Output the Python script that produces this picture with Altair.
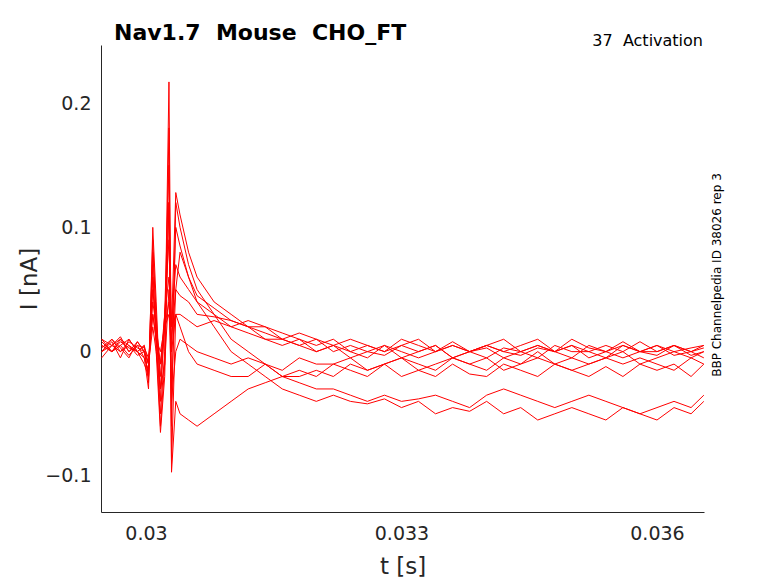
import altair as alt
import pandas as pd

# time grid in ms
t_pre = [29.48, 29.6, 29.7, 29.8, 29.9, 29.98]
t_spk = [30.03, 30.08, 30.12, 30.17, 30.22, 30.27, 30.3, 30.35, 30.4, 30.5]
t_tail = [round(30.6 + 0.2 * i, 2) for i in range(30)] + [36.55]
t_ms = t_pre + t_spk + t_tail

traces = [
    [0.005,0.0,0.008,0.003,0.0,-0.01,
     -0.02,0.09,0.02,-0.05,0.0,0.217,-0.03,0.05,0.08,0.06,
     0.04,0.02,0.0,-0.01,-0.02,-0.03,-0.035,-0.04,-0.035,-0.04,-0.042,-0.038,-0.045,-0.04,-0.05,-0.045,-0.048,-0.04,-0.05,-0.045,-0.055,-0.05,-0.045,-0.05,-0.055,-0.045,-0.05,-0.055,-0.045,-0.05,-0.04],
    [0.01,0.005,0.012,0.0,0.005,-0.005,
     -0.03,0.1,0.04,-0.04,0.03,0.15,-0.06,0.12,0.1,0.07,
     0.05,0.03,0.01,0.0,-0.01,-0.02,-0.025,-0.03,-0.03,-0.035,-0.04,-0.035,-0.04,-0.038,-0.035,-0.04,-0.045,-0.035,-0.03,-0.035,-0.04,-0.045,-0.04,-0.035,-0.04,-0.045,-0.05,-0.045,-0.04,-0.045,-0.035],
    [0.0,0.008,-0.005,0.01,0.0,0.005,
     -0.025,0.07,0.0,-0.065,-0.02,0.12,-0.09,0.03,0.02,0.0,
     -0.01,-0.015,-0.02,-0.02,-0.01,-0.02,-0.015,-0.02,-0.01,-0.015,-0.02,-0.01,-0.02,-0.015,-0.02,-0.01,-0.018,-0.02,-0.01,-0.015,-0.02,-0.01,-0.015,-0.02,-0.012,-0.02,-0.01,-0.015,-0.01,-0.02,-0.01],
    [0.005,0.0,0.01,0.005,-0.003,0.0,
     -0.02,0.06,0.01,-0.06,-0.01,0.18,-0.097,-0.04,-0.05,-0.055,
     -0.06,-0.05,-0.04,-0.03,-0.025,-0.02,-0.02,-0.015,-0.02,-0.01,-0.015,-0.01,-0.005,-0.015,-0.01,-0.005,-0.01,-0.015,-0.005,-0.01,0.0,-0.01,-0.005,-0.01,-0.005,0.0,-0.01,-0.005,0.0,-0.005,0.0],
    [0.0,0.01,0.003,-0.005,0.008,0.0,
     -0.02,0.08,0.03,-0.03,0.02,0.12,0.02,0.128,0.11,0.08,
     0.06,0.04,0.03,0.02,0.02,0.015,0.01,0.005,0.01,0.0,0.005,0.0,0.01,0.005,0.0,0.008,0.0,0.005,0.01,0.0,0.005,0.0,0.01,0.003,0.0,0.008,0.0,0.005,0.0,0.003,0.005],
    [0.01,0.0,0.005,0.01,0.0,-0.005,
     -0.015,0.05,0.02,-0.02,0.03,0.09,0.0,0.1,0.085,0.06,
     0.045,0.035,0.025,0.02,0.01,0.01,0.005,0.0,0.005,-0.005,0.0,0.005,-0.005,0.0,0.005,-0.005,0.0,0.003,-0.005,0.0,0.005,0.0,-0.005,0.005,0.0,-0.005,0.0,0.005,-0.003,0.0,-0.005],
    [-0.005,0.005,0.0,0.008,0.003,0.0,
     -0.01,0.04,0.02,-0.01,0.03,0.06,0.02,0.07,0.06,0.05,
     0.04,0.03,0.02,0.015,0.01,0.005,0.01,0.0,0.005,0.0,-0.005,0.005,0.0,-0.005,0.0,0.005,0.0,-0.005,0.003,0.0,-0.005,0.005,0.0,0.0,-0.005,0.005,0.0,-0.003,0.005,0.0,0.003],
    [0.008,0.0,0.005,-0.003,0.005,0.003,
     -0.005,0.03,0.01,0.0,0.02,0.04,0.01,0.05,0.045,0.04,
     0.03,0.028,0.025,0.02,0.015,0.01,0.005,0.01,0.0,0.005,0.0,-0.003,0.005,0.0,0.005,-0.005,0.0,0.005,0.0,-0.003,0.003,0.0,0.005,-0.005,0.0,0.005,0.0,0.0,0.005,-0.003,0.0],
    [0.003,0.01,0.0,0.005,0.0,0.005,
     -0.01,0.02,0.0,-0.03,-0.01,0.05,-0.04,0.0,0.01,0.005,
     0.0,-0.005,-0.01,-0.005,-0.01,-0.015,-0.005,-0.01,-0.01,-0.005,-0.015,-0.01,-0.005,-0.01,-0.015,-0.005,-0.01,-0.005,-0.015,-0.01,-0.005,-0.01,-0.015,-0.01,-0.005,-0.01,-0.005,-0.01,-0.015,-0.005,-0.01],
    [0.0,0.005,0.01,0.0,0.008,0.0,
     -0.01,0.03,0.01,-0.01,0.02,0.03,0.0,0.03,0.03,0.025,
     0.02,0.025,0.02,0.025,0.02,0.01,0.015,0.01,0.005,0.01,0.005,0.0,0.005,0.01,0.0,0.005,0.0,0.005,0.0,0.005,0.01,0.0,0.005,0.0,0.005,0.0,0.008,0.0,0.005,0.0,0.005],
]

rows = []
for k, tr in enumerate(traces):
    for i, (t, v) in enumerate(zip(t_ms, tr)):
        rows.append({"trace": k, "i": i, "t": t / 1000.0, "I": v})
df = pd.DataFrame(rows)

font = "DejaVu Sans"
xs = alt.Scale(domain=[0.029472, 0.036552], nice=False, zero=False)
ys = alt.Scale(domain=[-0.129, 0.2467], nice=False, zero=False)
NB = "\u00a0"

lines = alt.Chart(df).mark_line(color="#ff0000", strokeWidth=1, clip=True).encode(
    x=alt.X("t:Q", scale=xs, title="t [s]",
            axis=alt.Axis(values=[0.03, 0.033, 0.036], format="~g", grid=False, tickSize=0,
                          labelFontSize=19, titleFontSize=23, labelPadding=12, titlePadding=12,
                          labelColor="#262626", titleColor="#262626", domainColor="#262626",
                          titleFontWeight="normal", labelFont=font, titleFont=font)),
    y=alt.Y("I:Q", scale=ys, title="I [nA]",
            axis=alt.Axis(values=[-0.1, 0, 0.1, 0.2], format="~g", grid=False, tickSize=0,
                          labelFontSize=19, titleFontSize=23, labelPadding=10, titlePadding=3,
                          labelColor="#262626", titleColor="#262626", domainColor="#262626",
                          titleFontWeight="normal", labelFont=font, titleFont=font)),
    detail="trace:N",
    order="i:Q",
)

title = alt.Chart(pd.DataFrame({"s": [f"Nav1.7{NB}{NB}Mouse{NB}{NB}CHO_FT"]})).mark_text(
    align="left", baseline="bottom", fontSize=22, fontWeight="bold", font=font, color="black"
).encode(x=alt.value(13), y=alt.value(0), text="s:N")

sub = alt.Chart(pd.DataFrame({"s": [f"37{NB}{NB}Activation"]})).mark_text(
    align="right", baseline="bottom", fontSize=16, font=font, color="black"
).encode(x=alt.value(602), y=alt.value(4), text="s:N")

side = alt.Chart(pd.DataFrame({"s": ["BBP Channelpedia ID 38026 rep 3"]})).mark_text(
    align="center", baseline="middle", fontSize=12, font=font, color="black", angle=270
).encode(x=alt.value(616), y=alt.value(230), text="s:N")

chart = alt.layer(lines, title, sub, side).properties(
    width=603, height=467,
    autosize=alt.AutoSizeParams(type="none"),
    padding={"left": 93, "top": 37, "right": 60, "bottom": 70},
).configure(background="white").configure_view(stroke=None)

chart.save("out.html", embed_options={"renderer": "svg", "actions": False})
